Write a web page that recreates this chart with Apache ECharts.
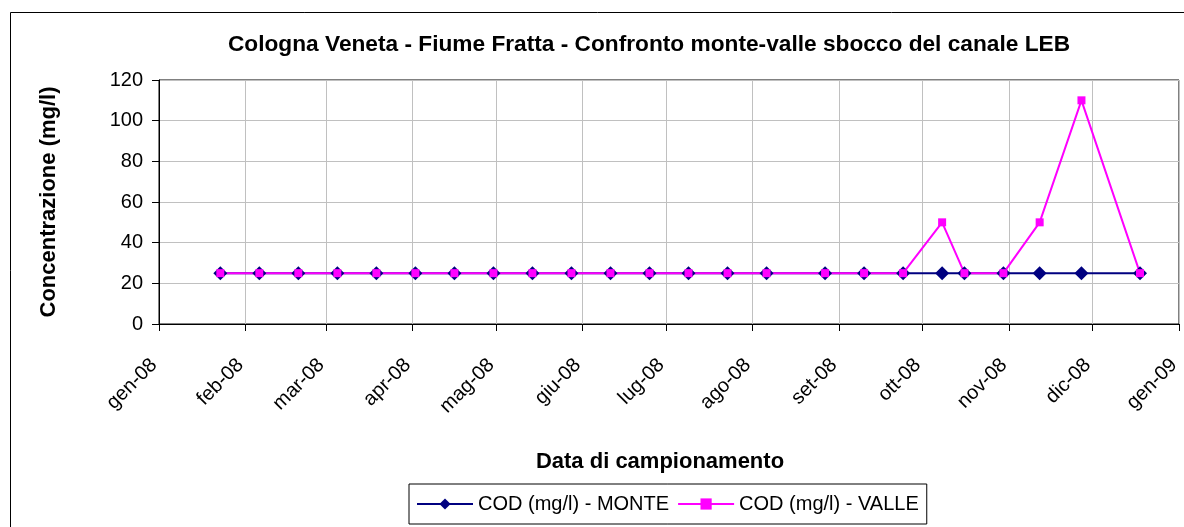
<!DOCTYPE html>
<html>
<head>
<meta charset="utf-8">
<title>Cologna Veneta - Fiume Fratta</title>
<script src="https://cdn.jsdelivr.net/npm/echarts@6.0.0/dist/echarts.min.js"></script>
<style>
html, body { margin: 0; padding: 0; background: #fff; }
#chart { width: 1184px; height: 527px; }
</style>
</head>
<body>
<div id="chart"></div>
<script>
// date di campionamento
var sampleDates = [
  '2008-01-23', '2008-02-06', '2008-02-20', '2008-03-05', '2008-03-19', '2008-04-02',
  '2008-04-16', '2008-04-30', '2008-05-14', '2008-05-28', '2008-06-11', '2008-06-25',
  '2008-07-09', '2008-07-23', '2008-08-06', '2008-08-27', '2008-09-10', '2008-09-24',
  '2008-10-08', '2008-10-16', '2008-10-30', '2008-11-12', '2008-11-27', '2008-12-18'
];
// COD (mg/l)
var codMonte = [25, 25, 25, 25, 25, 25, 25, 25, 25, 25, 25, 25,
                25, 25, 25, 25, 25, 25, 25, 25, 25, 25, 25, 25];
var codValle = [25, 25, 25, 25, 25, 25, 25, 25, 25, 25, 25, 25,
                25, 25, 25, 25, 25, 25, 50, 25, 25, 50, 110, 25];
// etichette asse x
var mesi = ['gen', 'feb', 'mar', 'apr', 'mag', 'giu', 'lug', 'ago', 'set', 'ott', 'nov', 'dic'];

var font = '"Liberation Sans", Arial, Helvetica, sans-serif';

function pairs(vals) {
  var out = [];
  for (var i = 0; i < vals.length; i++) {
    out.push([sampleDates[i], vals[i]]);
  }
  return out;
}

var chart = echarts.init(document.getElementById('chart'));
chart.setOption({
  animation: false,
  backgroundColor: '#fff',
  graphic: [
    {
      type: 'rect', z: -10, silent: true,
      shape: { x: 10.5, y: 12.5, width: 1300, height: 700 },
      style: { fill: 'none', stroke: '#000', lineWidth: 1 }
    },
    {
      type: 'text', x: 649, y: 45, silent: true,
      style: {
        text: 'Cologna Veneta - Fiume Fratta - Confronto monte-valle sbocco del canale LEB',
        fontFamily: font, fontSize: 22.7, fontWeight: 'bold', fill: '#000',
        align: 'center', verticalAlign: 'middle'
      }
    },
    {
      type: 'text', x: 660, y: 462, silent: true,
      style: {
        text: 'Data di campionamento',
        fontFamily: font, fontSize: 22, fontWeight: 'bold', fill: '#000',
        align: 'center', verticalAlign: 'middle'
      }
    }
  ],
  legend: {
    left: 409,
    top: 484,
    orient: 'horizontal',
    padding: [10, 8, 10, 7],
    itemGap: 8,
    itemWidth: 56,
    itemHeight: 14,
    borderColor: '#000',
    borderWidth: 1,
    textStyle: { fontFamily: font, fontSize: 20, color: '#000' },
    data: ['COD (mg/l) - MONTE', 'COD (mg/l) - VALLE']
  },
  grid: {
    left: 159,
    right: 5,
    top: 80,
    bottom: 203,
    containLabel: false,
    outerBoundsMode: 'none',
    show: true,
    borderColor: '#000',
    borderWidth: 1
  },
  xAxis: {
    type: 'time',
    min: '2008-01-01',
    max: '2009-01-01',
    splitNumber: 12,
    minInterval: 28 * 24 * 3600 * 1000,
    maxInterval: 31 * 24 * 3600 * 1000,
    axisLine: { show: true, lineStyle: { color: '#000', width: 1 } },
    axisTick: { show: true, inside: false, length: 7, lineStyle: { color: '#000' } },
    splitLine: { show: true, lineStyle: { color: '#c0c0c0', width: 1 } },
    axisLabel: {
      rotate: 45,
      margin: 33,
      padding: [0, 7, 0, 0],
      showMinLabel: true,
      showMaxLabel: true,
      hideOverlap: false,
      fontFamily: font,
      fontSize: 20,
      color: '#000',
      formatter: function (value) {
        var d = new Date(value);
        return mesi[d.getMonth()] + '-' + String(d.getFullYear()).slice(2);
      }
    }
  },
  yAxis: {
    type: 'value',
    min: 0,
    max: 120,
    interval: 20,
    name: 'Concentrazione (mg/l)',
    nameLocation: 'middle',
    nameRotate: 90,
    nameGap: 99,
    nameTextStyle: { fontFamily: font, fontSize: 22, fontWeight: 'bold', color: '#000' },
    axisLine: { show: true, lineStyle: { color: '#000', width: 1 } },
    axisTick: { show: true, inside: false, length: 7, lineStyle: { color: '#000' } },
    splitLine: { show: true, lineStyle: { color: '#c0c0c0', width: 1 } },
    axisLabel: { margin: 16, fontFamily: font, fontSize: 20, color: '#000' }
  },
  series: [
    {
      name: 'COD (mg/l) - MONTE',
      type: 'line',
      data: pairs(codMonte),
      color: '#000080',
      symbol: 'diamond',
      symbolSize: 14,
      showAllSymbol: true,
      lineStyle: { color: '#000080', width: 2 },
      itemStyle: { color: '#000080' }
    },
    {
      name: 'COD (mg/l) - VALLE',
      type: 'line',
      data: pairs(codValle),
      color: '#ff00ff',
      symbol: 'rect',
      symbolSize: 8,
      showAllSymbol: true,
      lineStyle: { color: '#ff00ff', width: 2 },
      itemStyle: { color: '#ff00ff' }
    }
  ]
});
</script>
</body>
</html>
